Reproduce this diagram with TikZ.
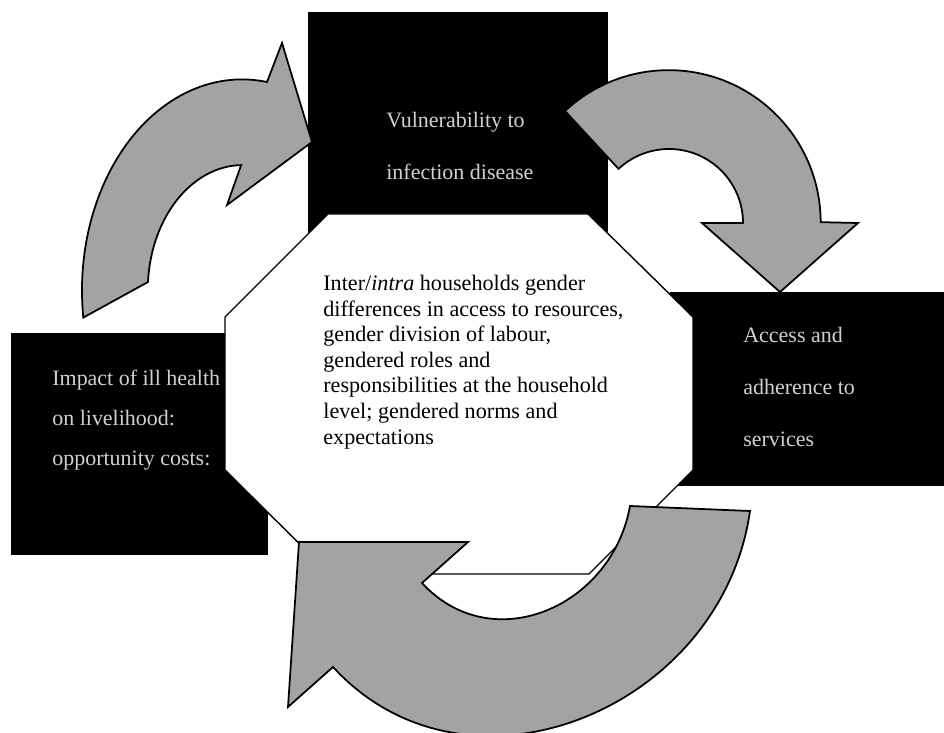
\documentclass[tikz,border=0pt]{standalone}
\usepackage{fontspec}
\setmainfont{Liberation Serif}
\definecolor{arrowgray}{gray}{0.64}
\definecolor{boxtext}{gray}{0.82}

\begin{document}
\begin{tikzpicture}[
    x=0.02cm, y=-0.02cm,
    darkbox/.style={fill=black},
    boxlabel/.style={text=boxtext, align=left, inner sep=0pt, anchor=west,
                     font=\fontsize{12.5}{29.5}\selectfont},
    octagon/.style={draw=black, fill=white, line width=0.8pt},
    centrelabel/.style={align=left, inner sep=0pt, anchor=west,
                        font=\fontsize{12.6}{14.6}\selectfont},
    bigarrow/.style={draw=black, fill=arrowgray, line width=1pt, line join=miter}
  ]
  \useasboundingbox (0,0) rectangle (944,733);

  % ========= outer boxes =========
  \fill[darkbox] (308,12) rectangle (608,245);
  \fill[darkbox] (11,333) rectangle (268,555);
  \fill[darkbox] (670,292) rectangle (944,486);

  \node[boxlabel] (vuln) at (386,146) {Vulnerability to\\infection disease};
  \node[boxlabel] (access) at (743,387) {Access and\\adherence to\\services};
  \node[boxlabel, font=\fontsize{12.5}{22.7}\selectfont] (impact) at (52,420)
    {Impact of ill health\\on livelihood:\\opportunity costs:};

  % ========= central octagon =========
  \filldraw[octagon] (328,214) -- (588,214) -- (693,317) -- (693,470)
    -- (589,574) -- (330,574) -- (225,470) -- (225,317) -- cycle;

  \node[centrelabel] (gender) at (323,362)
    {Inter/\textit{intra} households gender\\
     differences in access to resources,\\
     gender division of labour,\\
     gendered roles and\\
     responsibilities at the household\\
     level; gendered norms and\\
     expectations};

  % ========= curved block arrows =========
  % top left: impact -> vulnerability
  \filldraw[bigarrow] (267,82)
    arc[start angle=-81, end angle=-187.4, x radius=160, y radius=211]
    -- (148,282)
    arc[start angle=-176.3, end angle=-91, x radius=95, y radius=125]
    -- (227,205) -- (312,142) -- (282,43) -- cycle;

  % top right: vulnerability -> access
  \filldraw[bigarrow] (565,111) arc[start angle=-133, end angle=0, radius=152]
    -- (858,223) -- (780,292) -- (702,223) -- (743,223)
    arc[start angle=0, end angle=-133, radius=74] -- cycle;

  % bottom: access -> impact
  \filldraw[bigarrow] (333,667) .. controls (468,814) and (722,709) .. (750,511)
    -- (630,506) .. controls (612,607) and (492,659) .. (422,583)
    -- (468,542) -- (299,542) -- (288,707) -- cycle;

\end{tikzpicture}
\end{document}
